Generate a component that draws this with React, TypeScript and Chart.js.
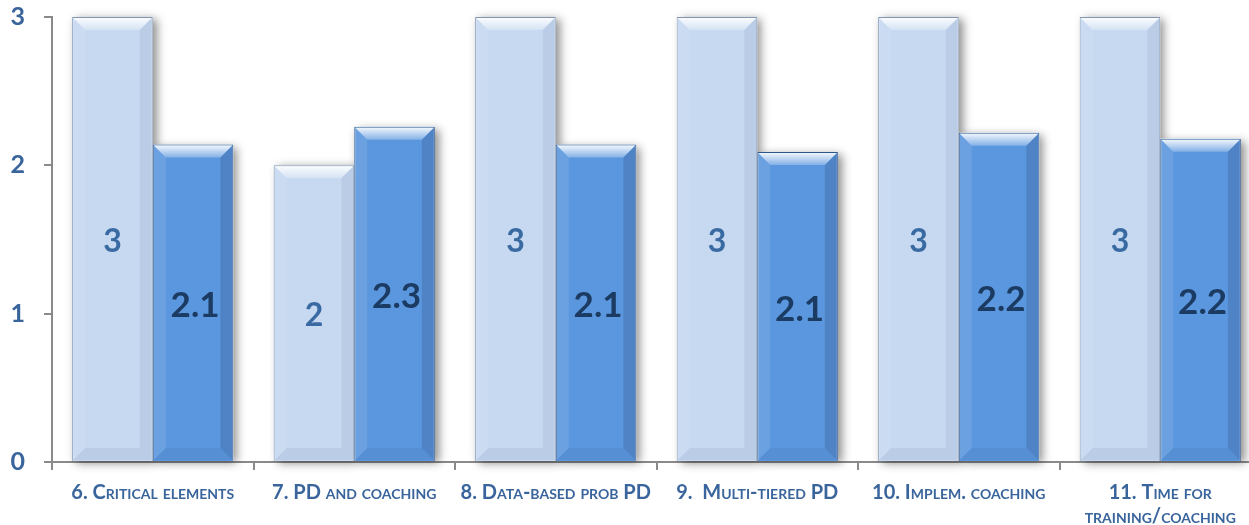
import React, { useEffect, useRef } from "react";
import { Chart, registerables } from "chart.js";

Chart.register(...registerables);

const categories: (string | string[])[] = [
  "6. Critical elements",
  "7. PD and coaching",
  "8. Data-based prob PD",
  "9.  Multi-tiered PD",
  "10. Implem. coaching",
  ["11. Time for", "training/coaching"],
];
const seriesA = [3, 2, 3, 3, 3, 3];
const seriesB = [2.14, 2.26, 2.14, 2.09, 2.22, 2.18];
const yTicks = [0, 1, 2, 3];

const FONT = "Lato, 'Open Sans', sans-serif";
const AXIS = "#8a8a8a";
const TICK_TEXT = "#3a659c";

const barFx = {
  id: "barFx",
  beforeDatasetsDraw(chart: any) {
    const ctx = chart.ctx;
    chart.data.datasets.forEach((_ds: any, i: number) => {
      const meta = chart.getDatasetMeta(i);
      meta.data.forEach((el: any) => {
        const { x, y, base, width } = el.getProps(["x", "y", "base", "width"], true);
        ctx.save();
        ctx.shadowColor = "rgba(0,0,0,0.45)";
        ctx.shadowBlur = 9;
        ctx.shadowOffsetX = 4;
        ctx.shadowOffsetY = 2;
        ctx.fillStyle = "#ffffff";
        ctx.fillRect(x - width / 2, y, width, base - y);
        ctx.restore();
      });
    });
  },
  afterDatasetsDraw(chart: any) {
    const ctx = chart.ctx;
    chart.data.datasets.forEach((ds: any, i: number) => {
      const meta = chart.getDatasetMeta(i);
      meta.data.forEach((el: any, j: number) => {
        const { x, y, base, width } = el.getProps(["x", "y", "base", "width"], true);
        const x0 = x - width / 2 + 1;
        const x1 = x + width / 2 - 1;
        const y0 = y + 1;
        const y1 = base - 1;
        const b = 12;
        ctx.save();
        const g = ctx.createLinearGradient(0, y0, 0, y0 + b);
        g.addColorStop(0, "rgba(255,255,255,0.9)");
        g.addColorStop(1, "rgba(255,255,255,0.25)");
        ctx.fillStyle = g;
        ctx.beginPath();
        ctx.moveTo(x0, y0);
        ctx.lineTo(x1, y0);
        ctx.lineTo(x1 - b, y0 + b);
        ctx.lineTo(x0 + b, y0 + b);
        ctx.closePath();
        ctx.fill();
        ctx.fillStyle = "rgba(255,255,255,0.1)";
        ctx.beginPath();
        ctx.moveTo(x0, y0);
        ctx.lineTo(x0 + b, y0 + b);
        ctx.lineTo(x0 + b, y1 - b);
        ctx.lineTo(x0, y1);
        ctx.closePath();
        ctx.fill();
        ctx.fillStyle = i === 1 ? "rgba(0,0,40,0.13)" : "rgba(0,0,40,0.05)";
        ctx.beginPath();
        ctx.moveTo(x1, y0);
        ctx.lineTo(x1 - b, y0 + b);
        ctx.lineTo(x1 - b, y1 - b);
        ctx.lineTo(x1, y1);
        ctx.closePath();
        ctx.fill();
        ctx.fillStyle = "rgba(0,0,40,0.05)";
        ctx.beginPath();
        ctx.moveTo(x0, y1);
        ctx.lineTo(x0 + b, y1 - b);
        ctx.lineTo(x1 - b, y1 - b);
        ctx.lineTo(x1, y1);
        ctx.closePath();
        ctx.fill();
        ctx.restore();

        const v = ds.data[j];
        const txt = i === 0 ? v.toFixed(0) : v.toFixed(1);
        ctx.save();
        ctx.font = i === 0 ? `bold 32px ${FONT}` : `bold 35px ${FONT}`;
        ctx.fillStyle = i === 0 ? "#3a6aa2" : "#1c3b62";
        ctx.textAlign = "center";
        ctx.textBaseline = "middle";
        ctx.fillText(txt, x + (i === 1 ? 2 : 0), (y + base) / 2 + 3);
        ctx.restore();
      });
    });
  },
};

export default function App() {
  const ref = useRef<HTMLCanvasElement | null>(null);
  useEffect(() => {
    if (!ref.current) return;
    const chart = new Chart(ref.current, {
      type: "bar",
      data: {
        labels: categories,
        datasets: [
          {
            label: "A",
            data: seriesA,
            backgroundColor: "#c6d9f1",
            borderColor: "#8296b2",
            borderWidth: 1,
            categoryPercentage: 0.8,
            barPercentage: 1.0,
          },
          {
            label: "B",
            data: seriesB,
            backgroundColor: "#5b97de",
            borderColor: "#2b568c",
            borderWidth: 1,
            categoryPercentage: 0.8,
            barPercentage: 1.0,
          },
        ],
      },
      options: {
        responsive: false,
        animation: false,
        layout: { padding: { top: 17, right: 2, left: 0, bottom: 0 } },
        plugins: {
          legend: { display: false },
          tooltip: { enabled: false },
        },
        scales: {
          y: {
            min: 0,
            max: 3,
            afterFit: (s: any) => {
              s.width = 52;
              s.paddingTop = 0;
              s.paddingBottom = 0;
            },
            afterBuildTicks: (s: any) => {
              s.ticks = yTicks.map((v) => ({ value: v }));
            },
            ticks: {
              stepSize: 1,
              padding: 19,
              color: TICK_TEXT,
              font: { family: FONT, size: 25, weight: "bold" },
            },
            grid: {
              drawOnChartArea: false,
              drawTicks: true,
              tickLength: 8,
              color: AXIS,
              lineWidth: 2,
            },
            border: { display: true, color: AXIS, width: 2 },
          },
          x: {
            afterFit: (s: any) => {
              s.height = 63;
            },
            ticks: {
              padding: 11,
              color: TICK_TEXT,
              maxRotation: 0,
              autoSkip: false,
              font: { family: FONT, size: 20, weight: "small-caps bold" as any, lineHeight: 1.2 },
            },
            grid: {
              offset: true,
              drawOnChartArea: false,
              drawTicks: true,
              tickLength: 8,
              color: AXIS,
              lineWidth: 2,
            },
            border: { display: true, color: AXIS, width: 2 },
          },
        },
      },
      plugins: [barFx],
    });
    return () => chart.destroy();
  }, []);
  return (
    <div
      style={{
        position: "absolute",
        left: 0,
        top: 0,
        width: 1249,
        height: 525,
        overflow: "hidden",
        background: "#fff",
      }}
    >
      <canvas ref={ref} width={1263} height={525} style={{ display: "block" }} />
    </div>
  );
}
